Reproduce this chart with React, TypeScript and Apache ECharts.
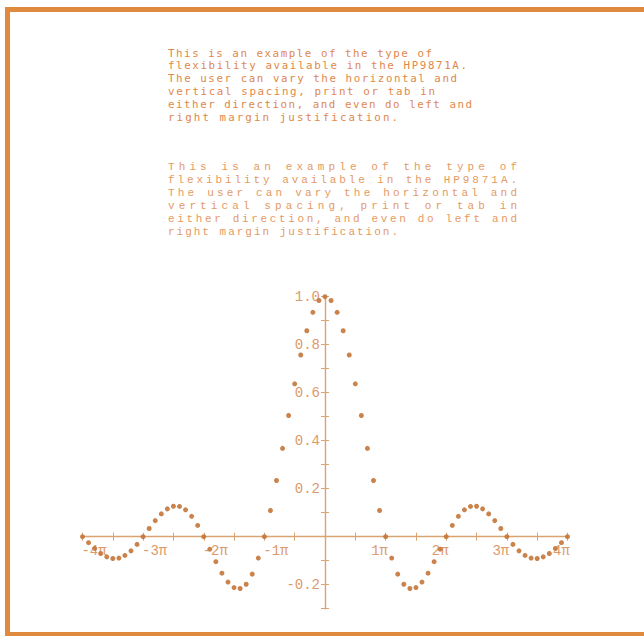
import React, { useEffect, useRef } from "react";
import * as echarts from "echarts";

// ---- text data ----
const paragraphLines = [
  "This is an example of the type of",
  "flexibility available in the HP9871A.",
  "The user can vary the horizontal and",
  "vertical spacing, print or tab in",
  "either direction, and even do left and",
  "right margin justification.",
];

// ---- series data (x in multiples of π) ----
const xInPi = [
  -4, -3.9, -3.8, -3.7, -3.6, -3.5, -3.4, -3.3, -3.2, -3.1,
  -3, -2.9, -2.8, -2.7, -2.6, -2.5, -2.4, -2.3, -2.2, -2.1,
  -2, -1.9, -1.8, -1.7, -1.6, -1.5, -1.4, -1.3, -1.2, -1.1,
  -1, -0.9, -0.8, -0.7, -0.6, -0.5, -0.4, -0.3, -0.2, -0.1,
  0,
  0.1, 0.2, 0.3, 0.4, 0.5, 0.6, 0.7, 0.8, 0.9, 1,
  1.1, 1.2, 1.3, 1.4, 1.5, 1.6, 1.7, 1.8, 1.9, 2,
  2.1, 2.2, 2.3, 2.4, 2.5, 2.6, 2.7, 2.8, 2.9, 3,
  3.1, 3.2, 3.3, 3.4, 3.5, 3.6, 3.7, 3.8, 3.9, 4,
];

const yValues = [
  0.0, -0.025, -0.049, -0.07, -0.084, -0.091, -0.089, -0.078, -0.059, -0.032,
  0.0, 0.034, 0.067, 0.095, 0.116, 0.127, 0.126, 0.112, 0.085, 0.047,
  0.0, -0.052, -0.104, -0.152, -0.189, -0.212, -0.216, -0.198, -0.156, -0.089,
  0.0, 0.109, 0.234, 0.368, 0.505, 0.637, 0.757, 0.858, 0.935, 0.984,
  1.0,
  0.984, 0.935, 0.858, 0.757, 0.637, 0.505, 0.368, 0.234, 0.109, 0.0,
  -0.089, -0.156, -0.198, -0.216, -0.212, -0.189, -0.152, -0.104, -0.052, 0.0,
  0.047, 0.085, 0.112, 0.126, 0.127, 0.116, 0.095, 0.067, 0.034, 0.0,
  -0.032, -0.059, -0.078, -0.089, -0.091, -0.084, -0.07, -0.049, -0.025, 0.0,
];

// ---- tick labels ----
const xLabelValues = [-4, -3, -2, -1, 1, 2, 3, 4];
const xLabelTexts = ["-4π", "-3π", "-2π", "-1π", "1π", "2π", "3π", "4π"];
const yLabelValues = [1.0, 0.8, 0.6, 0.4, 0.2, -0.2];
const yLabelTexts = ["1.0", "0.8", "0.6", "0.4", "0.2", "-0.2"];

// ---- styles / layout ----
const FONT = "'Liberation Mono', 'DejaVu Sans Mono', monospace";
const FONT_P1 = "'DejaVu Sans Mono', 'Liberation Mono', monospace";
const BORDER = "#e08a3f";
const TEXT1 = "#e0884c";
const TEXT2 = "#e49a64";
const AXIS = "#d9a472";
const LABEL = "#dc9a6c";
const DOT = "#c47538";

const TEXT_X = 168;
const P1_FONT_SIZE = 10.8;
const P2_FONT_SIZE = 11;
const P1_TOP = 53;
const P1_GAP = 12.8;
const P2_TOP = 166.7;
const P2_GAP = 13;
// printed line lengths in pixels (first block ragged, second block justified)
const P1_WIDTHS = [264, 299, 289, 267, 304, 230];
const P2_WIDTHS = [349, 349, 349, 349, 349, 230];

// plot frame (pixels)
const PLOT_LEFT = 82.5;
const PLOT_RIGHT = 76.5;
const PLOT_TOP = 296.7;
const PLOT_BOTTOM = 27.3;
const ZERO_X = 325;
const ZERO_Y_FROM_BOTTOM = 99.3;

function lookup(vals: number[], texts: string[], v: number): string | null {
  for (let i = 0; i < vals.length; i++) {
    if (Math.abs(vals[i] - v) < 1e-6) return texts[i];
  }
  return null;
}

export default function App() {
  const ref = useRef<HTMLDivElement>(null);

  useEffect(() => {
    const el = ref.current!;
    const chart = echarts.init(el, null, { renderer: "svg" });

    const textEls: any[] = [];
    paragraphLines.forEach((line, i) => {
      textEls.push({
        type: "text",
        x: TEXT_X,
        y: P1_TOP + i * P1_GAP,
        silent: true,
        style: {
          text: line,
          fontFamily: FONT_P1,
          fontSize: P1_FONT_SIZE,
          fill: TEXT1,
          align: "left",
          verticalAlign: "middle",
        },
      });
    });
    paragraphLines.forEach((line, i) => {
      textEls.push({
        type: "text",
        x: TEXT_X,
        y: P2_TOP + i * P2_GAP,
        silent: true,
        style: {
          text: line,
          fontFamily: FONT,
          fontSize: P2_FONT_SIZE,
          fill: TEXT2,
          align: "left",
          verticalAlign: "middle",
        },
      });
    });

    const tickStyle = { color: AXIS, width: 1 };
    const lineStyle = { color: AXIS, width: 1.4 };

    const xBase = {
      type: "value",
      gridIndex: 0,
      min: -4,
      max: 4,
      interval: 0.5,
      position: "bottom",
      splitLine: { show: false },
    };
    const yBase = {
      type: "value",
      gridIndex: 1,
      min: -0.3,
      max: 1.0,
      interval: 0.1,
      position: "left",
      splitLine: { show: false },
    };

    const option: any = {
      animation: false,
      backgroundColor: "#ffffff",
      grid: [
        {
          left: PLOT_LEFT,
          right: PLOT_RIGHT,
          top: PLOT_TOP,
          bottom: ZERO_Y_FROM_BOTTOM,
          containLabel: false,
          outerBoundsMode: "none",
        },
        {
          left: ZERO_X,
          right: PLOT_RIGHT,
          top: PLOT_TOP,
          bottom: PLOT_BOTTOM,
          containLabel: false,
          outerBoundsMode: "none",
        },
      ],
      xAxis: [
        {
          ...xBase,
          axisLine: { show: true, onZero: false, lineStyle },
          axisTick: { show: true, length: 4, inside: false, lineStyle: tickStyle },
          axisLabel: {
            show: true,
            margin: 7,
            fontFamily: FONT,
            fontSize: 14,
            color: LABEL,
            formatter: (v: number) => {
              const t = lookup(xLabelValues, xLabelTexts, v);
              if (!t) return "";
              return v < 0 ? `{n|${t}}` : `{p|${t}}`;
            },
            rich: {
              n: { fontFamily: FONT, fontSize: 14, color: LABEL, padding: [0, 0, 0, 23] },
              p: { fontFamily: FONT, fontSize: 14, color: LABEL, padding: [0, 12, 0, 0] },
            },
          },
        },
        {
          ...xBase,
          axisLine: { show: false, onZero: false },
          axisTick: { show: true, length: 4, inside: true, lineStyle: tickStyle },
          axisLabel: { show: false },
        },
        { type: "value", gridIndex: 1, min: 0, max: 4, show: false },
      ],
      yAxis: [
        { type: "value", gridIndex: 0, min: 0, max: 1, show: false },
        {
          ...yBase,
          axisLine: { show: true, onZero: false, lineStyle },
          axisTick: { show: true, length: 4, inside: false, lineStyle: tickStyle },
          axisLabel: {
            show: true,
            margin: 5,
            fontFamily: FONT,
            fontSize: 14,
            color: LABEL,
            formatter: (v: number) => lookup(yLabelValues, yLabelTexts, v) || "",
          },
        },
        {
          ...yBase,
          axisLine: { show: false, onZero: false },
          axisTick: { show: true, length: 4, inside: true, lineStyle: tickStyle },
          axisLabel: { show: false },
        },
      ],
      series: [
        {
          type: "scatter",
          xAxisIndex: 0,
          yAxisIndex: 0,
          clip: false,
          symbol: "circle",
          symbolSize: 5,
          itemStyle: { color: DOT, opacity: 0.9 },
          data: xInPi.map((x, i) => [x, yValues[i]]),
          z: 5,
        },
      ],
      graphic: {
        elements: [
          { type: "rect", silent: true, shape: { x: 5, y: 7, width: 639, height: 5 }, style: { fill: BORDER } },
          { type: "rect", silent: true, shape: { x: 5, y: 7, width: 5, height: 629 }, style: { fill: BORDER } },
          { type: "rect", silent: true, shape: { x: 5, y: 632, width: 639, height: 4 }, style: { fill: BORDER } },
          ...textEls,
        ],
      },
    };

    chart.setOption(option);

    // spread the printed lines to their measured lengths (printer character spacing)
    const spread = () => {
      el.querySelectorAll("text").forEach((t) => {
        const s = (t.textContent || "").trim();
        const i = paragraphLines.indexOf(s);
        if (i < 0) return;
        const r = t.getBoundingClientRect();
        const widths = r.top < 140 ? P1_WIDTHS : P2_WIDTHS;
        t.setAttribute("textLength", String(widths[i]));
        t.setAttribute("lengthAdjust", "spacing");
      });
    };
    spread();
    chart.on("finished", spread);
    const raf = requestAnimationFrame(spread);

    return () => {
      cancelAnimationFrame(raf);
      chart.dispose();
    };
  }, []);

  return (
    <div
      ref={ref}
      style={{ position: "fixed", left: 0, top: 0, width: 644, height: 636 }}
    />
  );
}
